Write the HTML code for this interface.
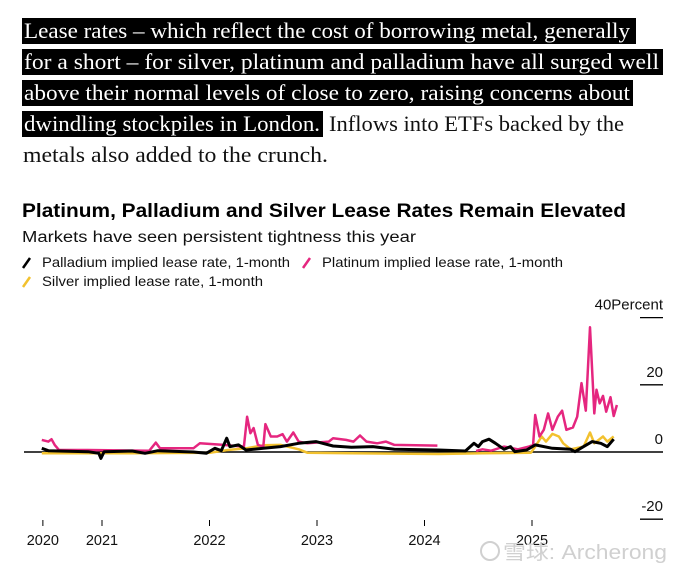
<!DOCTYPE html>
<html><head><meta charset="utf-8"><style>
html,body{margin:0;padding:0;background:#fff;}
svg{display:block;}
</style></head><body>
<svg width="680" height="573" viewBox="0 0 680 573" xmlns="http://www.w3.org/2000/svg">
<g font-family="'Liberation Serif', serif" font-size="22">
  <rect x="22" y="18" width="614" height="26" fill="#000"/>
  <rect x="22" y="49" width="641" height="26" fill="#000"/>
  <rect x="22" y="80" width="611" height="26" fill="#000"/>
  <rect x="22" y="111" width="301" height="26" fill="#000"/>
  <text x="24" y="38" fill="#fff" textLength="606" lengthAdjust="spacingAndGlyphs">Lease rates – which reflect the cost of borrowing metal, generally</text>
  <text x="24" y="69" fill="#fff" textLength="635" lengthAdjust="spacingAndGlyphs">for a short – for silver, platinum and palladium have all surged well</text>
  <text x="24" y="100" fill="#fff" textLength="606" lengthAdjust="spacingAndGlyphs">above their normal levels of close to zero, raising concerns about</text>
  <text x="24" y="131" fill="#fff" textLength="296" lengthAdjust="spacingAndGlyphs">dwindling stockpiles in London.</text>
  <text x="329" y="131" fill="#111" textLength="295" lengthAdjust="spacingAndGlyphs">Inflows into ETFs backed by the</text>
  <text x="23" y="162" fill="#111" textLength="305" lengthAdjust="spacingAndGlyphs">metals also added to the crunch.</text>
</g>
<g font-family="'Liberation Sans', sans-serif">
  <text x="22" y="217" font-size="19.5" font-weight="bold" fill="#000" textLength="604" lengthAdjust="spacingAndGlyphs">Platinum, Palladium and Silver Lease Rates Remain Elevated</text>
  <text x="22" y="242" font-size="15.5" fill="#111" textLength="394" lengthAdjust="spacingAndGlyphs">Markets have seen persistent tightness this year</text>
  <g>
    <line x1="23" y1="268" x2="30" y2="258" stroke="#000" stroke-width="2.5"/>
    <text x="42" y="267" font-size="14" fill="#111" textLength="248" lengthAdjust="spacingAndGlyphs">Palladium implied lease rate, 1-month</text>
  </g>
  <g>
    <line x1="303" y1="268" x2="310" y2="258" stroke="#e5267f" stroke-width="2.5"/>
    <text x="322" y="267" font-size="14" fill="#111" textLength="241" lengthAdjust="spacingAndGlyphs">Platinum implied lease rate, 1-month</text>
  </g>
  <g>
    <line x1="23" y1="287" x2="30" y2="277" stroke="#f2c12e" stroke-width="2.5"/>
    <text x="42" y="286" font-size="14" fill="#111" textLength="221" lengthAdjust="spacingAndGlyphs">Silver implied lease rate, 1-month</text>
  </g>
  <g id="yaxis"></g>
  <g id="xaxis"></g>
  <g id="plot"></g>
  <g fill="#d0d0d0">
    <circle cx="490" cy="551" r="9" fill="none" stroke="#d0d0d0" stroke-width="2"/>
    <text x="503" y="559" font-size="20" font-family="'Liberation Sans','Noto Sans CJK SC',sans-serif" textLength="164" lengthAdjust="spacingAndGlyphs">雪球: Archerong</text>
  </g>
</g>
</svg>
<script>
const yTicks = [40, 20, 0, -20];
const xTickYears = [2020.45, 2021, 2022, 2023, 2024, 2025];
const xTickLabels = ["2020", "2021", "2022", "2023", "2024", "2025"];

const platDates = [2020.44,2020.50,2020.53,2020.56,2020.60,2020.87,2021.44,2021.50,2021.54,2021.85,2021.91,2022.13,2022.32,2022.35,2022.38,2022.41,2022.45,2022.50,2022.52,2022.57,2022.63,2022.68,2022.72,2022.78,2022.83,2022.91,2023.11,2023.15,2023.27,2023.34,2023.40,2023.46,2023.56,2023.64,2023.72,2024.12,null,2024.48,2024.54,2024.62,2024.74,2024.87,2024.97,2025.01,2025.03,2025.07,2025.11,2025.15,2025.19,2025.24,2025.28,2025.32,2025.38,2025.42,2025.46,2025.50,2025.54,2025.58,2025.60,2025.63,2025.66,2025.69,2025.73,2025.76,2025.79];
const platValues = [3.6,3.1,3.8,2.1,0.6,0.6,0.4,2.8,1.1,1.1,2.6,2.1,1.6,10.5,5.6,7.1,2.1,1.6,8.3,4.6,4.6,5.3,3.1,5.8,3.1,2.6,3.1,4.1,3.6,3.1,4.9,3.1,2.6,3.1,2.1,1.9,null,0.3,0.8,0.4,1.6,0.8,1.6,2.1,11.0,4.6,6.6,11.5,6.6,10.5,12.3,6.6,7.3,10.5,20.5,12.3,37.1,11.5,18.5,14.5,16.7,12.0,16.3,10.7,14.0];

const pallDates = [2020.44,2020.50,2020.87,2020.97,2020.99,2021.02,2021.28,2021.40,2021.52,2021.85,2021.97,2022.05,2022.11,2022.16,2022.19,2022.27,2022.34,2022.50,2022.66,2022.83,2022.99,2023.15,2023.32,2023.52,2023.72,2024.13,2024.38,2024.46,2024.50,2024.54,2024.60,2024.66,2024.74,2024.80,2024.84,2024.95,2025.03,2025.19,2025.36,2025.40,2025.48,2025.56,2025.64,2025.70,2025.76];
const pallValues = [1.1,0.4,0.1,-0.4,-1.9,0.1,0.3,-0.4,0.4,0,-0.4,1.1,0.4,4.1,1.6,2.1,0.6,1.1,1.6,2.6,3.1,1.8,1.4,1.6,0.8,0.6,0.3,2.6,1.6,3.1,3.8,2.6,0.8,1.6,0.1,0.6,2.1,1.1,0.8,0.1,1.6,3.1,2.6,1.6,3.8];

const silvDates = [2020.44,2021.28,2022.01,2022.17,2022.34,2022.50,2022.66,2022.83,2022.91,2023.32,2024.13,2024.54,2024.99,2025.03,2025.09,2025.13,2025.19,2025.25,2025.29,2025.36,2025.48,2025.54,2025.58,2025.66,2025.70,2025.76];
const silvValues = [-0.4,-0.4,-0.2,0.6,1.1,2.0,2.1,0.8,-0.2,-0.4,-0.6,-0.4,-0.2,1.6,4.6,3.1,5.4,4.6,2.6,0.8,1.6,5.8,2.6,4.6,3.1,4.6];

function xScale(yr){ return 102 + (yr - 2021) * 107.5; }
function yScale(v){ return 452 - v * 3.36; }
const NS = "http://www.w3.org/2000/svg";
function mk(tag, attrs, parent){ const e = document.createElementNS(NS, tag); for (const k in attrs) e.setAttribute(k, attrs[k]); parent.appendChild(e); return e; }

const ya = document.getElementById('yaxis');
yTicks.forEach(t => {
  const y = yScale(t);
  if (t !== 0) {
    const tl = mk('line', {x1:640, x2:663, y1:y, y2:y, stroke:'#000', 'stroke-width':1.3}, ya);
    
    
  }
  const lb = mk('text', {x:663, y:y-8, 'font-size':15, 'text-anchor':'end', fill:'#111'}, ya);
  lb.textContent = t === 40 ? '40Percent' : String(t);
  
  
});
const zl = mk('line', {x1:24, x2:663, y1:yScale(0), y2:yScale(0), stroke:'#000', 'stroke-width':1.4}, ya);



const xa = document.getElementById('xaxis');
xTickYears.forEach((yr, i) => {
  const x = xScale(yr);
  const tk = mk('line', {x1:x, x2:x, y1:520, y2:526, stroke:'#000', 'stroke-width':1}, xa);
  
  
  const lb = mk('text', {x:x, y:545, 'font-size':14.5, 'text-anchor':'middle', fill:'#111'}, xa);
  lb.textContent = xTickLabels[i];
  
  
});

function pathFor(dates, vals){
  let d = '', pen = false;
  for (let i = 0; i < dates.length; i++) {
    if (dates[i] === null || vals[i] === null) { pen = false; continue; }
    d += (pen ? 'L' : 'M') + xScale(dates[i]).toFixed(1) + ',' + yScale(vals[i]).toFixed(1);
    pen = true;
  }
  return d;
}
const plot = document.getElementById('plot');
const s1 = mk('path', {d:pathFor(silvDates, silvValues), fill:'none', stroke:'#f2c12e', 'stroke-width':2.5, 'stroke-linejoin':'round'}, plot);


const s2 = mk('path', {d:pathFor(platDates, platValues), fill:'none', stroke:'#e5267f', 'stroke-width':2.5, 'stroke-linejoin':'round'}, plot);


const s3 = mk('path', {d:pathFor(pallDates, pallValues), fill:'none', stroke:'#000', 'stroke-width':3, 'stroke-linejoin':'round'}, plot);


</script>
</body></html>
